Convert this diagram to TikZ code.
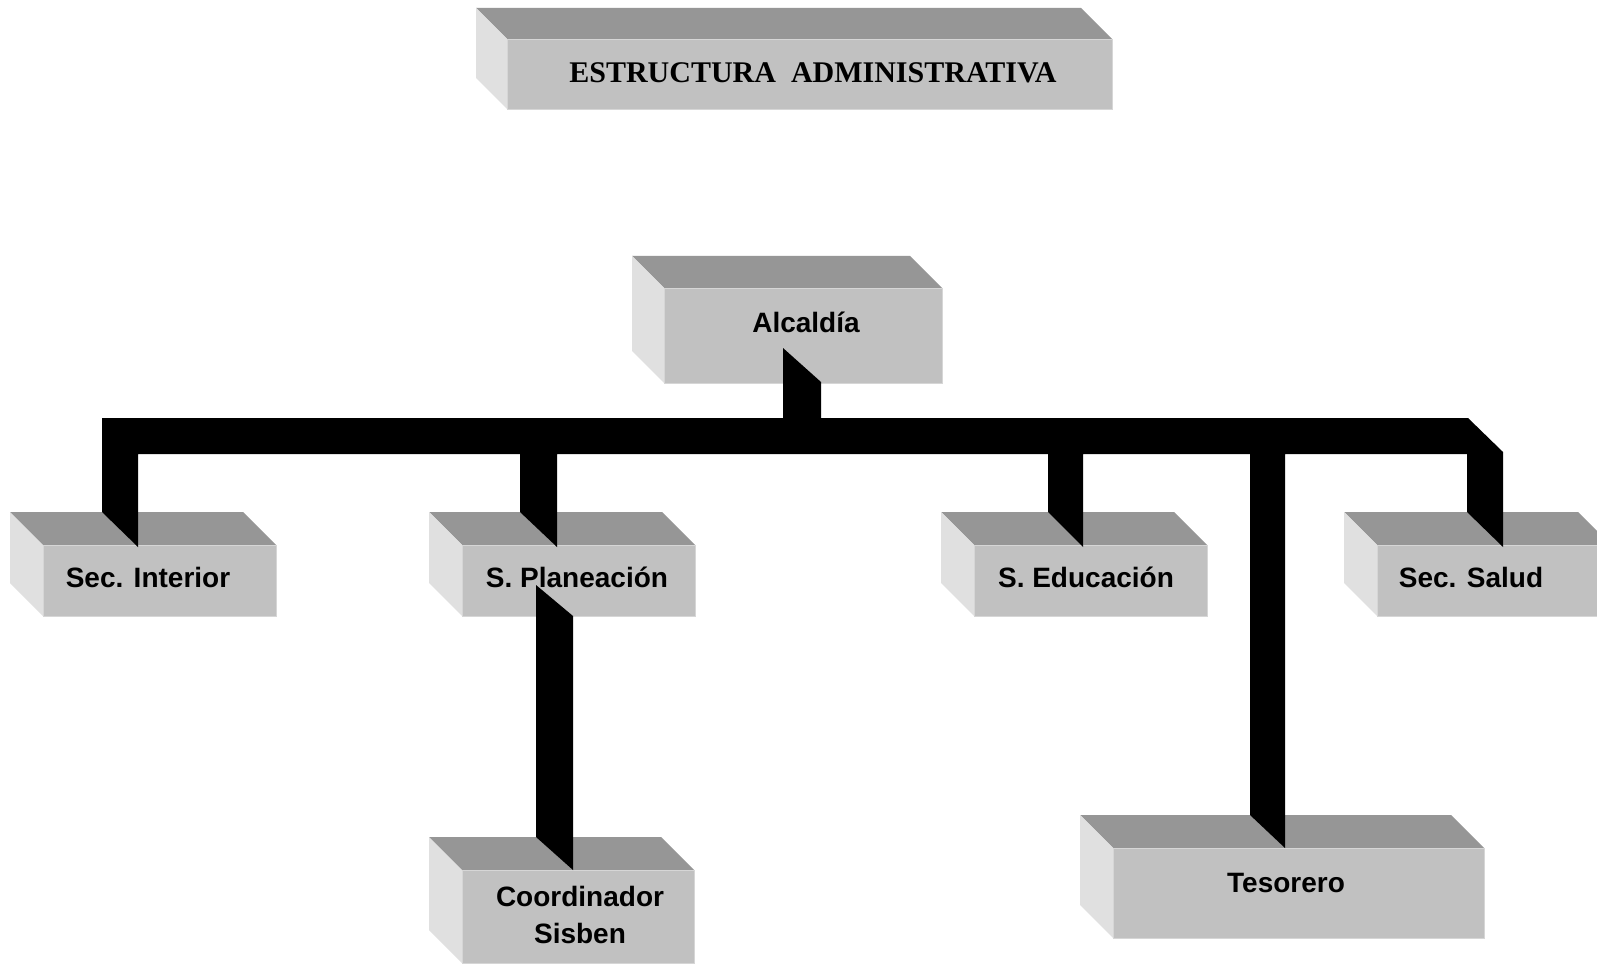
\documentclass[tikz,border=0pt]{standalone}
\usepackage{fontspec}
\setmainfont{Liberation Serif}
\newfontfamily\arialf{Liberation Sans}
\definecolor{topgray}{RGB}{150,150,150}
\definecolor{frontgray}{RGB}{193,193,193}
\definecolor{sidegray}{RGB}{224,224,224}
\definecolor{edgegray}{RGB}{214,214,214}
\newcommand\threedbox[6]{% name, x1, y1, x2, y2, depth
  \fill[topface] ({#2-#6},{#3-#6}) -- ({#4-#6},{#3-#6}) -- (#4,#3) -- (#2,#3) -- cycle;
  \fill[sideface] ({#2-#6},{#3-#6}) -- (#2,#3) -- (#2,#5) -- ({#2-#6},{#5-#6}) -- cycle;
  \node[frontface, minimum width={#4-#2}, minimum height={#5-#3}] (#1) at ({(#2+#4)/2},{(#3+#5)/2}) {};
}
\begin{document}
\begin{tikzpicture}[x=1pt,y=-1pt,
  frontface/.style={fill=frontgray, draw=edgegray, line width=0.8pt, inner sep=0pt, outer sep=0pt, rectangle},
  topface/.style={fill=topgray},
  sideface/.style={fill=sidegray},
  conn/.style={fill=black},
  lab/.style={font=\arialf\bfseries\fontsize{28}{37}\selectfont, anchor=base, inner sep=0pt, align=center},
  titlelab/.style={font=\bfseries\fontsize{30}{36}\selectfont, anchor=base, inner sep=0pt},
  ]
\useasboundingbox[fill=white] (0,0) rectangle (1597,965);

% boxes
\threedbox{title}{507}{39}{1112}{109}{31}
\threedbox{alc}{664}{288}{942}{383}{32}
\threedbox{sint}{43}{545}{276}{616}{33}
\threedbox{splan}{462}{545}{695}{616}{33}
\threedbox{sedu}{974}{545}{1207}{616}{33}
\threedbox{ssal}{1377}{545}{1611}{616}{33}
\threedbox{coord}{462}{870}{694}{963}{33}
\threedbox{tes}{1113}{848}{1484}{938}{33}

% connectors
\fill[conn] (102,418) -- (783,418) -- (783,348) -- (821,382) -- (821,418)
  -- (1468,418) -- (1503,452) -- (1503,547) -- (1467,512) -- (1467,454)
  -- (1285,454) -- (1285,848) -- (1250,815) -- (1250,454)
  -- (1083,454) -- (1083,547) -- (1048,512) -- (1048,454)
  -- (557,454) -- (557,547) -- (520,512) -- (520,454)
  -- (138,454) -- (138,547) -- (102,512) -- cycle;
\fill[conn] (536,585) -- (573,616) -- (573,870) -- (536,837) -- cycle;

% labels
\node[titlelab] (titleT) at (813,83) {ESTRUCTURA\hspace{15pt}ADMINISTRATIVA};
\node[lab] (alcT) at (806,332) {Alcaldía};
\node[lab] (sintT) at (148,587) {Sec. Interior};
\node[lab] (splanT) at (577,587) {S. Planeación};
\node[lab] (seduT) at (1086,587) {S. Educación};
\node[lab] (ssalT) at (1471,587) {Sec. Salud};
\node[lab] (coordT) at (580,943) {Coordinador\\Sisben};
\node[lab] (tesT) at (1286,892) {Tesorero};
\end{tikzpicture}
\end{document}
